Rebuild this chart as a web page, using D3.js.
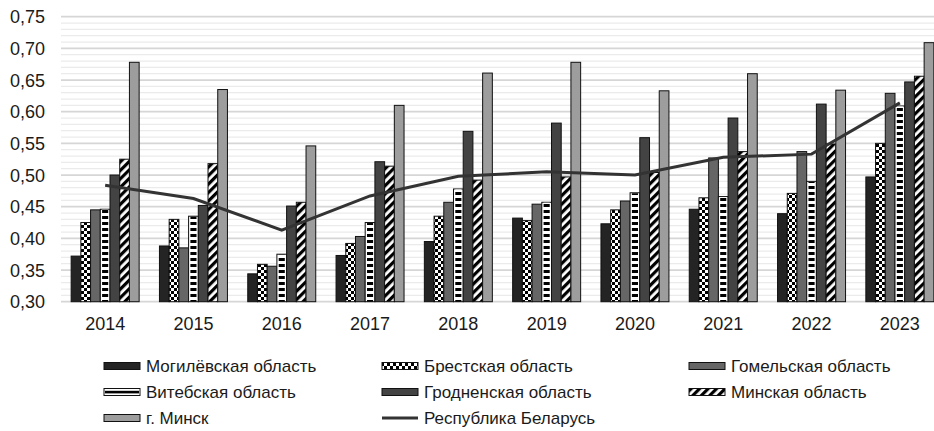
<!DOCTYPE html>
<html><head><meta charset="utf-8">
<script src="https://cdn.jsdelivr.net/npm/d3@7"></script>
<style>body{margin:0;background:#fff}svg{display:block}text{font-family:"Liberation Sans",Arial,sans-serif;fill:#1a1a1a}</style>
</head><body>
<svg id="c" width="934" height="431"></svg>
<script>
const years = ["2014","2015","2016","2017","2018","2019","2020","2021","2022","2023"];
const seriesNames = ["Могилёвская область","Брестская область","Гомельская область","Витебская область","Гродненская область","Минская область","г. Минск"];
const mogilev = [0.372,0.388,0.344,0.373,0.395,0.432,0.423,0.446,0.439,0.497];
const brest   = [0.425,0.430,0.359,0.392,0.435,0.428,0.445,0.464,0.471,0.550];
const gomel   = [0.445,0.385,0.356,0.403,0.457,0.454,0.459,0.527,0.537,0.629];
const vitebsk = [0.446,0.435,0.375,0.425,0.478,0.457,0.472,0.466,0.490,0.609];
const grodno  = [0.500,0.452,0.451,0.521,0.569,0.582,0.559,0.590,0.612,0.647];
const minskObl= [0.525,0.518,0.457,0.514,0.492,0.497,0.504,0.537,0.549,0.656];
const minsk   = [0.678,0.635,0.546,0.610,0.661,0.678,0.633,0.660,0.634,0.709];
const belarus = [0.484,0.463,0.413,0.467,0.498,0.505,0.500,0.528,0.533,0.614];
const lineName = "Республика Беларусь";
const yTicks = [0.30,0.35,0.40,0.45,0.50,0.55,0.60,0.65,0.70,0.75];

const seriesValues = [mogilev,brest,gomel,vitebsk,grodno,minskObl,minsk];
const fills = ["#242424","url(#checker)","#666666","url(#hstripe)","#434343","url(#diag)","#9d9d9d"];

const svg = d3.select("#c");
const defs = svg.append("defs");
const pc = defs.append("pattern").attr("id","checker").attr("patternUnits","userSpaceOnUse").attr("width",6).attr("height",6);
pc.append("rect").attr("width",6).attr("height",6).attr("fill","#fff");
pc.append("rect").attr("width",3).attr("height",3).attr("fill","#000");
pc.append("rect").attr("x",3).attr("y",3).attr("width",3).attr("height",3).attr("fill","#000");
const ph = defs.append("pattern").attr("id","hstripe").attr("patternUnits","userSpaceOnUse").attr("width",6).attr("height",6);
ph.append("rect").attr("width",6).attr("height",6).attr("fill","#fff");
ph.append("rect").attr("width",6).attr("height",3).attr("fill","#000");
const pd = defs.append("pattern").attr("id","diag").attr("patternUnits","userSpaceOnUse").attr("width",6).attr("height",6).attr("patternTransform","rotate(45)");
pd.append("rect").attr("width",6).attr("height",6).attr("fill","#fff");
pd.append("rect").attr("width",3.2).attr("height",6).attr("fill","#000");

const x = d3.scaleBand().domain(years).range([61,944]).paddingInner(0.23).paddingOuter(0.115);
const xs = d3.scaleBand().domain(d3.range(seriesNames.length)).range([0,x.bandwidth()]);
const y = d3.scaleLinear().domain([0.30,0.75]).range([301.7,16.7]);

// gridlines
const minor = d3.range(30,76).map(d=>d/100);
svg.append("g").selectAll("line").data(minor).join("line")
  .attr("x1",61).attr("x2",944).attr("y1",d=>y(d)).attr("y2",d=>y(d))
  .attr("stroke",d=> Math.round(d*100)%5===0 ? "#d6d6d6" : "#ebebeb")
  .attr("stroke-width",d=> Math.round(d*100)%5===0 ? 1.8 : 1.2);

// y labels
svg.append("g").selectAll("text").data(yTicks).join("text")
  .attr("x",45).attr("y",d=>y(d)).attr("dy","0.36em").attr("text-anchor","end")
  .attr("font-size",18).text(d=>d.toFixed(2).replace(".",","));

// x labels
svg.append("g").selectAll("text").data(years).join("text")
  .attr("x",d=>x(d)+x.bandwidth()/2).attr("y",330).attr("text-anchor","middle")
  .attr("font-size",18).text(d=>d);

// bars
const g = svg.append("g");
years.forEach((yr,i)=>{
  seriesValues.forEach((vals,s)=>{
    const bx = x(yr)+xs(s), bw = xs.bandwidth(), by = y(vals[i]), bh = y(0.30)-y(vals[i]);
    if (s===3) {
      g.append("rect").attr("x",bx).attr("y",by).attr("width",bw).attr("height",bh).attr("fill","#fff").attr("stroke","#111").attr("stroke-width",1);
      g.append("rect").attr("x",bx+1.8).attr("y",by+0.5).attr("width",bw-3.6).attr("height",bh-0.5).attr("fill",fills[s]);
    } else {
      g.append("rect").attr("x",bx).attr("y",by).attr("width",bw).attr("height",bh).attr("fill",fills[s]).attr("stroke","#111").attr("stroke-width",1);
    }
  });
});

// line
svg.append("path").datum(belarus)
  .attr("d",d3.line().x((d,i)=>x(years[i])+x.bandwidth()/2).y(d=>y(d)))
  .attr("fill","none").attr("stroke","#333").attr("stroke-width",3);

// legend
const cols = [104,382,689], rows = [366,392,418];
const items = seriesNames.map((n,i)=>({name:n,fill:fills[i],type:"bar",idx:i})).concat([{name:lineName,type:"line"}]);
items.forEach((it,k)=>{
  const cx = cols[k%3], cy = rows[Math.floor(k/3)];
  const lg = svg.append("g");
  if (it.type==="bar") {
    if (it.idx===3) {
      lg.append("rect").attr("x",cx).attr("y",cy-3.5).attr("width",36).attr("height",7).attr("fill","#fff").attr("stroke","#111");
      lg.append("rect").attr("x",cx+1).attr("y",cy-1.2).attr("width",34).attr("height",2.6).attr("fill","#000");
    } else {
      lg.append("rect").attr("x",cx).attr("y",cy-3.5).attr("width",36).attr("height",7).attr("fill",it.fill).attr("stroke","#111");
    }
  } else {
    lg.append("line").attr("x1",cx).attr("x2",cx+36).attr("y1",cy).attr("y2",cy).attr("stroke","#333").attr("stroke-width",3);
  }
  lg.append("text").attr("x",cx+42).attr("y",cy).attr("dy","0.36em").attr("font-size",17).text(it.name);
});
</script>
</body></html>
